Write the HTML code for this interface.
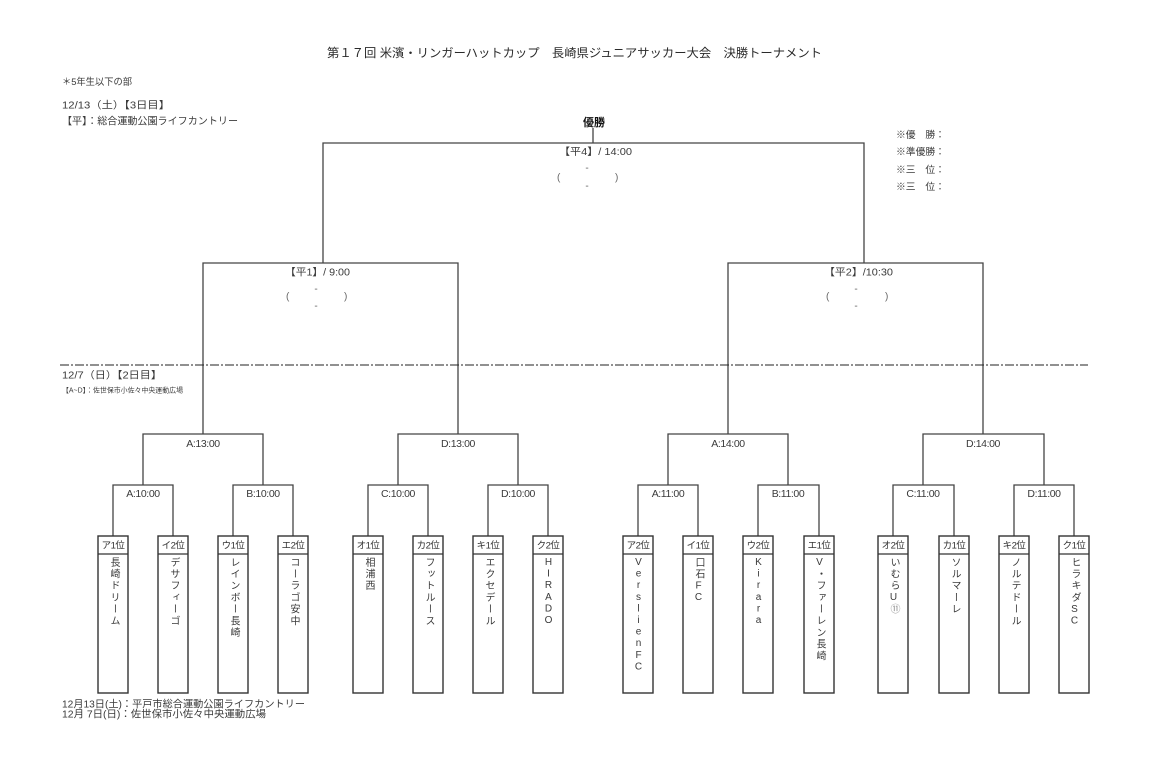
<!DOCTYPE html>
<html><head><meta charset="utf-8">
<style>
html,body{margin:0;padding:0;background:#fff;}
#wrap{position:relative;width:1159px;height:779px;overflow:hidden;background:#fff;font-family:"Liberation Sans","Noto Sans CJK JP",sans-serif;color:#333;}
svg{position:absolute;left:0;top:0;}
.v{position:absolute;top:557px;width:30px;height:134px;writing-mode:vertical-rl;text-orientation:upright;font-size:10px;line-height:30px;letter-spacing:1.7px;color:#3a3a3a;font-family:"Liberation Sans","Noto Sans CJK JP",sans-serif;}
.v .l{letter-spacing:0.6px;}
</style></head><body><div id="wrap">
<svg width="1159" height="779" viewBox="0 0 1159 779" xmlns="http://www.w3.org/2000/svg" font-family="Liberation Sans, Noto Sans CJK JP, sans-serif">
<g fill="#2a2a2a">
<text x="327" y="57" font-size="12" textLength="495" lengthAdjust="spacingAndGlyphs">第１７回 米濱・リンガーハットカップ　長崎県ジュニアサッカー大会　決勝トーナメント</text>
</g>
<g fill="#3a3a3a" font-size="10">
<text x="62" y="85" font-size="9.5" textLength="70" lengthAdjust="spacingAndGlyphs">＊5年生以下の部</text>
<text x="62" y="108.5" textLength="108" lengthAdjust="spacingAndGlyphs">12/13（土）【3日目】</text>
<text x="62" y="124.5" textLength="176" lengthAdjust="spacingAndGlyphs">【平】：総合運動公園ライフカントリー</text>
<text x="62" y="378.5" textLength="100" lengthAdjust="spacingAndGlyphs">12/7（日）【2日目】</text>
<text x="62" y="392.5" font-size="7" textLength="121" lengthAdjust="spacingAndGlyphs">【A~D】：佐世保市小佐々中央運動広場</text>
<text x="62" y="707.5" textLength="243" lengthAdjust="spacingAndGlyphs">12月13日(土)：平戸市総合運動公園ライフカントリー</text>
<text x="62" y="717.5" textLength="204" lengthAdjust="spacingAndGlyphs">12月 7日(日)：佐世保市小佐々中央運動広場</text>
</g>
<text x="594" y="126" font-size="11" font-weight="bold" text-anchor="middle" fill="#111">優勝</text>
<g fill="#3a3a3a" font-size="9.5">
<text x="896" y="138" textLength="49" lengthAdjust="spacingAndGlyphs">※優　勝：</text>
<text x="896" y="155" textLength="49" lengthAdjust="spacingAndGlyphs">※準優勝：</text>
<text x="896" y="173" textLength="49" lengthAdjust="spacingAndGlyphs">※三　位：</text>
<text x="896" y="190" textLength="49" lengthAdjust="spacingAndGlyphs">※三　位：</text>
</g>
<g fill="#3a3a3a" font-size="10">
<text x="559" y="155" textLength="73" lengthAdjust="spacingAndGlyphs">【平4】/ 14:00</text>
<text x="285" y="275.5" textLength="65" lengthAdjust="spacingAndGlyphs">【平1】/ 9:00</text>
<text x="824" y="275.5" textLength="69" lengthAdjust="spacingAndGlyphs">【平2】/10:30</text>
</g>
<g fill="#666" font-size="10">
<text x="557" y="180.5">(</text><text x="615" y="180.5">)</text>
<text x="587" y="171" text-anchor="middle">-</text><text x="587" y="189" text-anchor="middle">-</text>
<text x="286" y="299.5">(</text><text x="344" y="299.5">)</text>
<text x="316" y="292" text-anchor="middle">-</text><text x="316" y="309" text-anchor="middle">-</text>
<text x="826" y="299.5">(</text><text x="885" y="299.5">)</text>
<text x="856" y="292" text-anchor="middle">-</text><text x="856" y="309" text-anchor="middle">-</text>
</g>
<g fill="#3a3a3a" font-size="10.5" text-anchor="middle" letter-spacing="-0.4">
<text x="203" y="447">A:13:00</text>
<text x="458" y="447">D:13:00</text>
<text x="728" y="447">A:14:00</text>
<text x="983" y="447">D:14:00</text>
<text x="143" y="497">A:10:00</text>
<text x="263" y="497">B:10:00</text>
<text x="398" y="497">C:10:00</text>
<text x="518" y="497">D:10:00</text>
<text x="668" y="497">A:11:00</text>
<text x="788" y="497">B:11:00</text>
<text x="923" y="497">C:11:00</text>
<text x="1044" y="497">D:11:00</text>
</g>
<g stroke="#444" stroke-width="1.3" fill="none">
<path d="M113 536V485H173V536"/>
<path d="M233 536V485H293V536"/>
<path d="M368 536V485H428V536"/>
<path d="M488 536V485H548V536"/>
<path d="M638 536V485H698V536"/>
<path d="M758 536V485H819V536"/>
<path d="M893 536V485H954V536"/>
<path d="M1014 536V485H1074V536"/>
<path d="M143 485V434H263V485"/>
<path d="M398 485V434H518V485"/>
<path d="M668 485V434H788V485"/>
<path d="M923 485V434H1044V485"/>
<path d="M203 434V263H458V434"/>
<path d="M728 434V263H983V434"/>
<path d="M323 263V143H864V263"/>
<path d="M593 128V143"/>
</g>
<line x1="60" y1="365" x2="1088" y2="365" stroke="#222" stroke-width="1" stroke-dasharray="9 2 2 2"/>
<g stroke="#333" stroke-width="1.4" fill="#fff">
<rect x="98" y="536" width="30" height="157"/><rect x="158" y="536" width="30" height="157"/>
<rect x="218" y="536" width="30" height="157"/><rect x="278" y="536" width="30" height="157"/>
<rect x="353" y="536" width="30" height="157"/><rect x="413" y="536" width="30" height="157"/>
<rect x="473" y="536" width="30" height="157"/><rect x="533" y="536" width="30" height="157"/>
<rect x="623" y="536" width="30" height="157"/><rect x="683" y="536" width="30" height="157"/>
<rect x="743" y="536" width="30" height="157"/><rect x="804" y="536" width="30" height="157"/>
<rect x="878" y="536" width="30" height="157"/><rect x="939" y="536" width="30" height="157"/>
<rect x="999" y="536" width="30" height="157"/><rect x="1059" y="536" width="30" height="157"/>
</g>
<g stroke="#333" stroke-width="1.2">
<path d="M98 554h30M158 554h30M218 554h30M278 554h30M353 554h30M413 554h30M473 554h30M533 554h30M623 554h30M683 554h30M743 554h30M804 554h30M878 554h30M939 554h30M999 554h30M1059 554h30"/>
</g>
<g fill="#333" font-size="9.5" text-anchor="middle" letter-spacing="-0.5">
<text x="113" y="548.5">ア1位</text><text x="173" y="548.5">イ2位</text>
<text x="233" y="548.5">ウ1位</text><text x="293" y="548.5">エ2位</text>
<text x="368" y="548.5">オ1位</text><text x="428" y="548.5">カ2位</text>
<text x="488" y="548.5">キ1位</text><text x="548" y="548.5">ク2位</text>
<text x="638" y="548.5">ア2位</text><text x="698" y="548.5">イ1位</text>
<text x="758" y="548.5">ウ2位</text><text x="819" y="548.5">エ1位</text>
<text x="893" y="548.5">オ2位</text><text x="954" y="548.5">カ1位</text>
<text x="1014" y="548.5">キ2位</text><text x="1074" y="548.5">ク1位</text>
</g>
</svg>
<div class="v" style="left:98px">長崎ドリーム</div>
<div class="v" style="left:158px">デサフィーゴ</div>
<div class="v" style="left:218px">レインボー長崎</div>
<div class="v" style="left:278px">コーラゴ安中</div>
<div class="v" style="left:353px">相浦西</div>
<div class="v" style="left:413px">フットルース</div>
<div class="v" style="left:473px">エクセデール</div>
<div class="v" style="left:533px"><span class="l">HIRADO</span></div>
<div class="v" style="left:623px"><span class="l">VerslienFC</span></div>
<div class="v" style="left:683px">口石<span class="l">FC</span></div>
<div class="v" style="left:743px"><span class="l">Kirara</span></div>
<div class="v" style="left:804px"><span class="l">V</span>・ファーレン長崎</div>
<div class="v" style="left:878px">いむら<span class="l">U</span><span style="color:#888">⑪</span></div>
<div class="v" style="left:939px">ソルマーレ</div>
<div class="v" style="left:999px">ノルテドール</div>
<div class="v" style="left:1059px">ヒラキダ<span class="l">SC</span></div>
</div></body></html>
